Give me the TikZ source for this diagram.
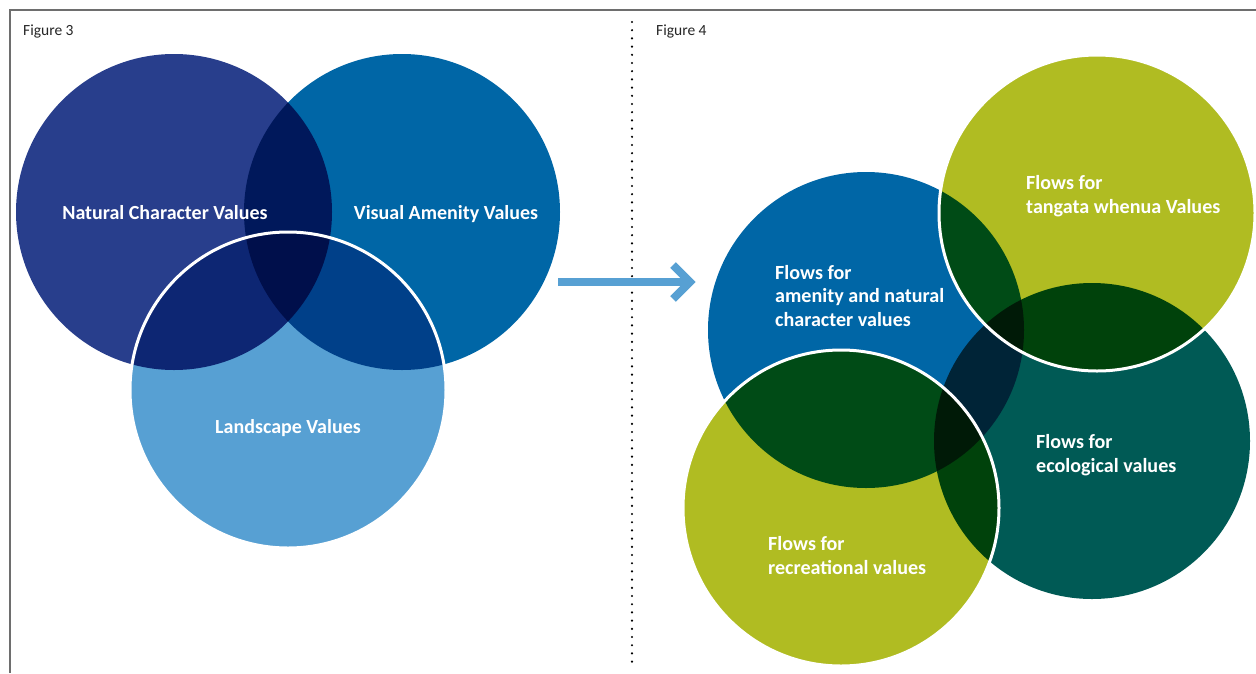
\documentclass[tikz,border=0pt]{standalone}
\usepackage{fontspec}
\setmainfont{Carlito}
\definecolor{navyval}{RGB}{40,62,140}
\definecolor{blueval}{RGB}{0,102,166}
\definecolor{skyval}{RGB}{87,160,211}
\definecolor{oliveval}{RGB}{176,188,34}
\definecolor{tealval}{RGB}{0,90,85}
\definecolor{framegray}{RGB}{110,110,110}
\begin{document}
\begin{tikzpicture}[x=1pt,y=-1pt,
  disc/.style={circle, inner sep=0pt, outer sep=0pt, minimum size=316pt},
  rim/.style={draw=white, line width=3pt},
  vlabel/.style={text=white, inner sep=0pt, font=\bfseries\fontsize{20}{23}\selectfont},
  flabel/.style={text=white, inner sep=0pt, align=left, anchor=base west,
    font=\bfseries\fontsize{20.1}{23.5}\selectfont},
  figlabel/.style={inner sep=0pt, anchor=base west, text=black!85,
    font=\fontsize{15.5}{18}\selectfont},
  flowarrow/.style={draw=skyval, line width=8pt},
  dotline/.style={line width=2.4pt, line cap=round, dash pattern=on 0pt off 8.2pt}
]
\useasboundingbox (0,0) rectangle (1256,673);
\fill[white] (0,0) rectangle (1256,673);

% frame and separator
\draw[framegray, line width=2pt] (10,673) -- (10,10) -- (1256,10);
\coordinate (septop) at (632,22);
\coordinate (sepbot) at (632,662);
\draw[dotline] (septop) -- (sepbot);

\node[figlabel] (fig3) at (23,35) {Figure 3};
\node[figlabel] (fig4) at (656,35) {Figure 4};

% Figure 3: three overlapping value circles, multiplied where they meet
\begin{scope}[blend group=multiply]
  \node[disc, fill=navyval] (natc) at (174,212) {};
  \node[disc, fill=blueval] (visa) at (402,212) {};
  \node[disc, fill=skyval]  (land) at (288,390) {};
\end{scope}
\draw[rim] (land) circle[radius=158];

\node[vlabel, anchor=base] (natct) at (165,219) {Natural Character Values};
\node[vlabel, anchor=base] (visat) at (446,219) {Visual Amenity Values};
\node[vlabel, anchor=base] (landt) at (288,433) {Landscape Values};

% Figure 4: flows for each group of values
\begin{scope}[blend group=multiply]
  \node[disc, fill=blueval]  (amen) at (866,330) {};
  \node[disc, fill=tealval]  (ecol) at (1092,441) {};
  \node[disc, fill=oliveval] (tang) at (1097,213) {};
  \node[disc, fill=oliveval] (recr) at (841,508) {};
\end{scope}
\draw[rim] (tang) circle[radius=158];
\draw[rim] (recr) circle[radius=158];

% multi-line labels sit on the baseline of their last line
\node[flabel] (amentext) at (775,326) {Flows for\\amenity and natural\\character values};
\node[flabel] (tangtext) at (1026,213) {Flows for\\tangata whenua Values};
\node[flabel] (ecoltext) at (1036,472) {Flows for\\ecological values};
\node[flabel] (recrtext) at (768,574) {Flows for\\recreational values};

% arrow from figure 3 to figure 4
\coordinate (arrtail) at (558,282);
\coordinate (arrshaft) at (688,282);
\coordinate (arrtip) at (690,282);
\draw[flowarrow] (arrtail) -- (arrshaft);
\draw[flowarrow, miter limit=4] ([shift={(-17,-17)}]arrtip) -- (arrtip) -- ([shift={(-17,17)}]arrtip);
\end{tikzpicture}
\end{document}
